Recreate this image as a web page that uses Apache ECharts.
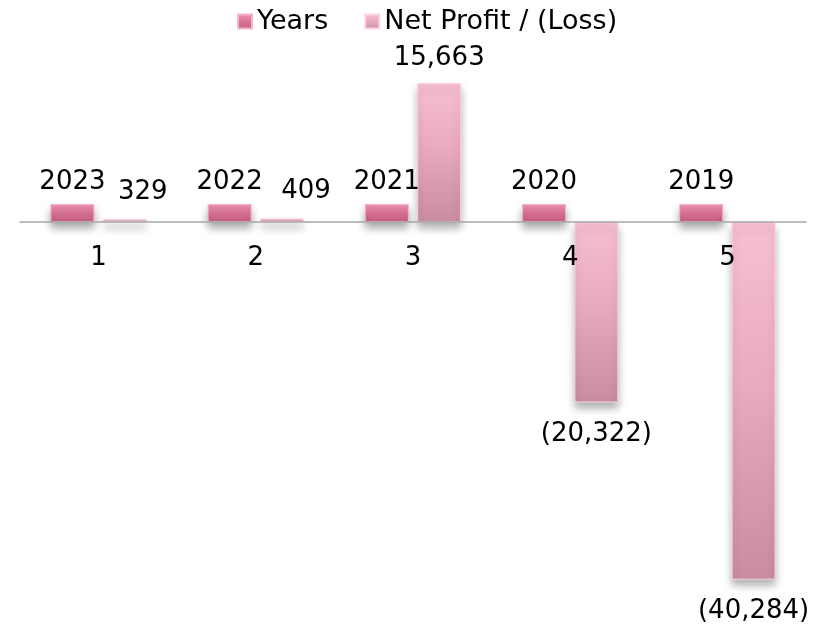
<!DOCTYPE html>
<html>
<head>
<meta charset="utf-8">
<script src="https://cdn.jsdelivr.net/npm/echarts@6/dist/echarts.min.js"></script>
<style>
  html, body { margin: 0; padding: 0; background: #fff; }
  #main { width: 827px; height: 625px; }
</style>
</head>
<body>
<div id="main"></div>
<script>
var categories = ['1', '2', '3', '4', '5'];
var years = [2023, 2022, 2021, 2020, 2019];
var netProfit = [329, 409, 15663, -20322, -40284];

// small labels are nudged right like in the original sheet
var netLabelShift = { 0: [18, -2], 1: [24, -2] };

function fmtMoney(v) {
    var s = Math.abs(v).toLocaleString('en-US');
    return v < 0 ? '(' + s + ')' : s;
}

var netData = netProfit.map(function (v, i) {
    var item = { value: v, label: { position: v < 0 ? 'bottom' : 'top', distance: v < 0 ? 19 : 12 } };
    if (netLabelShift[i]) item.label.offset = netLabelShift[i];
    return item;
});

var myChart = echarts.init(document.getElementById('main'));
var font = 'DejaVu Sans, Verdana, sans-serif';

var gridTop = 80, gridBottom = 39, yMin = -41000, yMax = 16000;
// pull the category labels up to the zero line
var plotH = 625 - gridTop - gridBottom;
var zeroOffset = -plotH * (0 - yMin) / (yMax - yMin);

var option = {
    animation: false,
    textStyle: { fontFamily: font },
    legend: {
        top: 3,
        left: 232,
        itemWidth: 14,
        itemHeight: 14,
        itemGap: 36,
        icon: 'rect',
        textStyle: { fontSize: 27, color: '#000', fontFamily: font },
        data: ['Years', 'Net Profit / (Loss)']
    },
    grid: { left: 20, right: 21, top: gridTop, bottom: gridBottom, outerBoundsMode: 'none', containLabel: false },
    xAxis: {
        type: 'category',
        data: categories,
        offset: zeroOffset,
        z: 10,
        axisLine: { onZero: false, lineStyle: { color: '#a6a6a6', width: 1.5 } },
        axisTick: { show: false },
        axisLabel: { fontSize: 26, color: '#000', margin: 23, fontFamily: font }
    },
    yAxis: {
        type: 'value',
        min: yMin,
        max: yMax,
        show: false,
        splitLine: { show: false }
    },
    series: [
        {
            name: 'Years',
            type: 'bar',
            barWidth: 44,
            barGap: '19%',
            z: 3,
            data: years,
            itemStyle: {
                color: new echarts.graphic.LinearGradient(0, 0, 0, 1, [
                    { offset: 0, color: '#ee94b2' },
                    { offset: 0.5, color: '#dc7496' },
                    { offset: 1, color: '#c45f82' }
                ]),
                borderColor: '#f3b3c8',
                borderWidth: 1,
                shadowBlur: 8,
                shadowOffsetY: 6,
                shadowColor: 'rgba(0,0,0,0.35)'
            },
            label: {
                show: true,
                position: 'top',
                distance: 9,
                fontSize: 26,
                color: '#000',
                fontFamily: font
            }
        },
        {
            name: 'Net Profit / (Loss)',
            type: 'bar',
            barWidth: 44,
            z: 3,
            data: netData,
            itemStyle: {
                color: new echarts.graphic.LinearGradient(0, 0, 0, 1, [
                    { offset: 0, color: '#f7bfd2' },
                    { offset: 0.45, color: '#eaaac0' },
                    { offset: 1, color: '#c98ca2' }
                ]),
                borderColor: '#fbd3e1',
                borderWidth: 1,
                shadowBlur: 8,
                shadowOffsetY: 6,
                shadowColor: 'rgba(0,0,0,0.3)'
            },
            label: {
                show: true,
                fontSize: 26,
                color: '#000',
                fontFamily: font,
                formatter: function (p) { return fmtMoney(p.value); }
            }
        }
    ]
};

myChart.setOption(option);
</script>
</body>
</html>
